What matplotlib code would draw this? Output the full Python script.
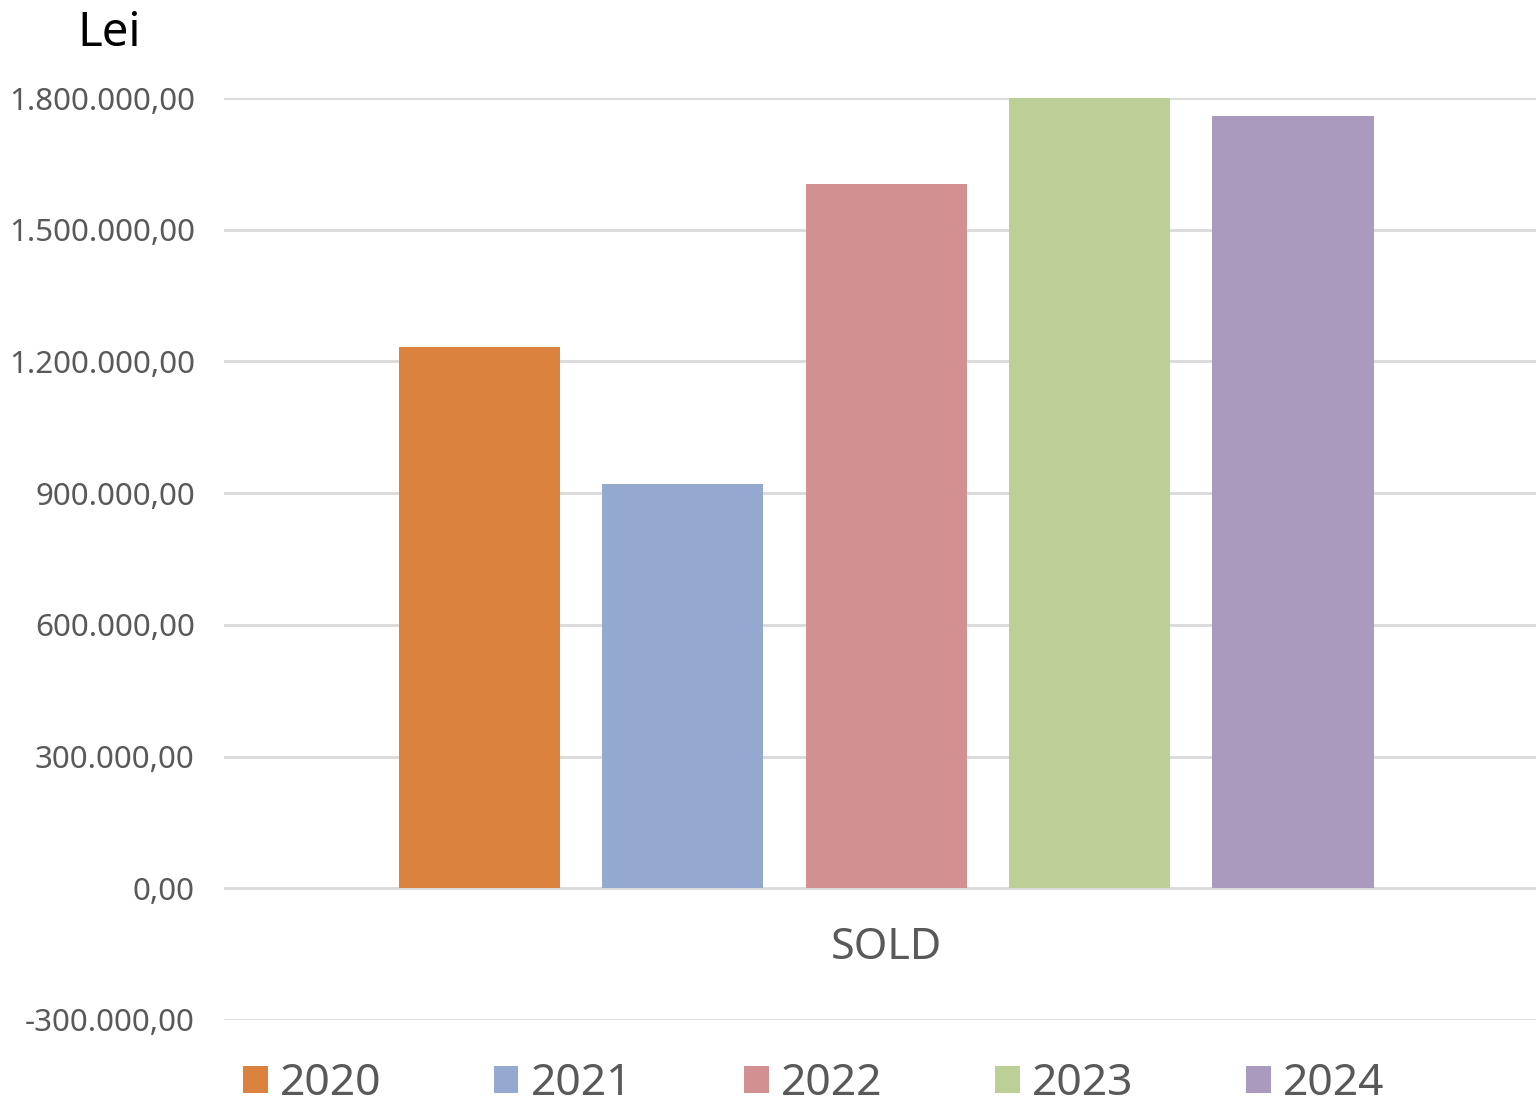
import matplotlib
matplotlib.use('Agg')
import matplotlib.pyplot as plt
from matplotlib.ticker import FuncFormatter

years = ['2020', '2021', '2022', '2023', '2024']
sold = [1233000, 920000, 1604000, 1800000, 1759000]
colors = ['#dc823f', '#95a9d0', '#d29090', '#bbcf96', '#a99abe']
yticks = [-300000, 0, 300000, 600000, 900000, 1200000, 1500000, 1800000]

plt.rcParams['font.family'] = ['Noto Sans', 'DejaVu Sans']

fig = plt.figure(figsize=(15.36, 11.04), dpi=100, facecolor='white')
ax = fig.add_axes([0.1458, 0.0761, 0.8542, 0.8351])

for i, (y, v, c) in enumerate(zip(years, sold, colors)):
    ax.bar(i, v, width=0.793, color=c, label=y, zorder=3)

ax.set_xlim(-1.256, 5.195)
ax.set_ylim(-300000, 1800000)
ax.set_yticks(yticks)


def fmt(v, pos):
    s = '{:,.2f}'.format(v)
    return s.replace(',', 'X').replace('.', ',').replace('X', '.')


ax.yaxis.set_major_formatter(FuncFormatter(fmt))
ax.tick_params(axis='y', length=0, pad=21, labelsize=22.5, labelcolor='#595959')
ax.set_xticks([])
ax.grid(axis='y', color='#d9d9d9', linewidth=2, zorder=0)
for s in ax.spines.values():
    s.set_visible(False)

ax.text(2, -137000, 'SOLD', ha='center', va='center', fontsize=31, color='#595959')
fig.text(0.071, 0.970, 'Lei', ha='center', va='center', fontsize=34, color='black')

leg = fig.legend(loc='lower left', bbox_to_anchor=(0.132, -0.038), ncol=5, frameon=False,
                 handlelength=0.56, handleheight=0.56, handletextpad=0.27,
                 columnspacing=2.53, prop={'size': 32})
for t in leg.get_texts():
    t.set_color('#595959')

fig.savefig('out.png', dpi=100, facecolor='white')
